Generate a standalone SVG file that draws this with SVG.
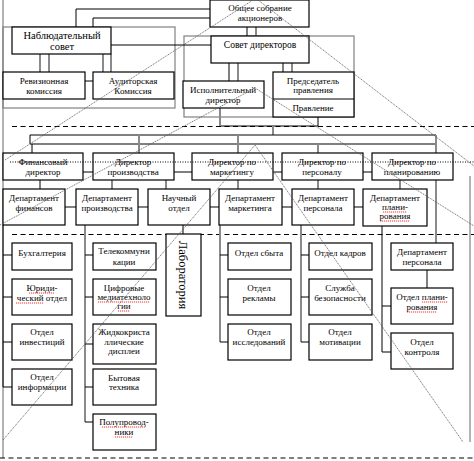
<svg xmlns="http://www.w3.org/2000/svg" width="474" height="461" viewBox="0 0 474 461">
<style>
.b{fill:#fff;stroke:#000;stroke-width:1.2}
.c{fill:none;stroke:#808080;stroke-width:1.2}
.t{font-family:"Liberation Serif","Times New Roman",serif;font-size:9px;text-anchor:middle;fill:#000}
.k{fill:none;stroke:#000;stroke-width:1}
.g{fill:none;stroke:#8a8a8a;stroke-width:2}
.d{fill:none;stroke:#000;stroke-width:1.2;stroke-dasharray:5 3.5}
.o{fill:none;stroke:#000;stroke-width:1;stroke-dasharray:1 1.5}
.x{fill:none;stroke:#555;stroke-width:0.8;stroke-dasharray:1.2 0.8}
.r{fill:none;stroke:#e00;stroke-width:0.8;stroke-dasharray:1.2 0.8}
</style>
<rect width="474" height="461" fill="#fff"/>
<g id="frames">
<rect class="c" x="3" y="27" width="172" height="81"/>
<rect class="c" x="184" y="36" width="170" height="81"/>
<path class="c" d="M3,0 V458 M470,176 V442"/>
<path class="d" d="M12,126.5 H474 M12,234.5 H474 M0,458 H474"/>
</g>
<g id="connectors">
<path class="k" d="M76,27 V9 H210 M93,27 V18 H210 M111,45 H211 M85,81 H93 M247,27 V36 M229,63 V81 M283,63 V72 M318,117 V126 M220,126 H318"/>
<path class="g" d="M40,54 V72 M49,54 V72 M103,54 V72 M111,54 V72 M256,27 V36 M238,63 V81 M292,63 V72 M220,108 V126 M273,126 V135"/>
<path class="k" d="M30,135 H436 M30,144 H436 M30,135 V144 M32,144 V153"/>
<path class="g" d="M139,135 V153 M238,135 V153 M318,144 V153 M436,135 V243"/>
<path class="k" d="M83,172 H93 M174,172 H192 M273,172 H282 M363,172 H372 M40,180 V189"/>
<path class="g" d="M112,180 V189 M166,180 V189 M238,180 V189 M318,180 V189 M400,180 V189"/>
<path class="k" d="M65,207 H76 M138,207 H148 M210,207 H219 M282,207 H292 M354,207 H363"/>
<path class="k" d="M3,225 V387 M3,255 H12 M3,297 H12 M3,342 H12 M3,387 H12"/>
<path class="g" d="M85,225 V422"/>
<path class="k" d="M85,255 H93 M85,297 H93 M85,344 H93 M85,387 H93 M85,422 H93 M183,225 V234"/>
<path class="g" d="M220,225 V342 M301,225 V342"/>
<path class="k" d="M220,255 H228 M220,297 H228 M220,342 H228 M301,255 H309 M301,297 H309 M301,342 H309"/>
<path class="k" d="M382,226 V352 M382,306 H391 M382,352 H391 M427,270 V288"/>
</g>
<g id="obshee"><rect class="b" x="210" y="0" width="99" height="27"/><text class="t" x="260" y="11">Общее собрание</text><text class="t" x="260" y="21">акционеров</text></g>
<g id="nablud"><rect class="b" x="12" y="27" width="99" height="27"/><text class="t" x="62" y="39" style="font-size:10.5px">Наблюдательный</text><text class="t" x="62" y="50" style="font-size:10.5px">совет</text></g>
<g id="reviz"><rect class="b" x="3" y="72" width="82" height="27"/><text class="t" x="44" y="84">Ревизионная</text><text class="t" x="44" y="94">комиссия</text></g>
<g id="audit"><rect class="b" x="93" y="72" width="81" height="27"/><text class="t" x="133" y="84">Аудиторская</text><text class="t" x="133" y="94">Комиссия</text></g>
<g id="sovet"><rect class="b" x="211" y="36" width="98" height="27"/><text class="t" x="260" y="48" style="font-size:9.5px">Совет директоров</text></g>
<g id="ispoln"><rect class="b" x="183" y="81" width="81" height="27"/><text class="t" x="223" y="93">Исполнительный</text><text class="t" x="223" y="103">директор</text></g>
<g id="predsed"><rect class="b" x="273" y="72" width="81" height="45"/><path class="k" d="M273,99 H354"/><text class="t" x="313" y="84">Председатель</text><text class="t" x="313" y="93">правления</text><text class="t" x="313" y="111">Правление</text></g>
<g id="fin_dir"><rect class="b" x="3" y="153" width="80" height="27"/><text class="t" x="43" y="165">Финансовый</text><text class="t" x="43" y="175">директор</text></g>
<g id="prod_dir"><rect class="b" x="93" y="153" width="81" height="27"/><text class="t" x="133" y="165">Директор</text><text class="t" x="133" y="175">производства</text></g>
<g id="mark_dir"><rect class="b" x="192" y="153" width="81" height="27"/><text class="t" x="232" y="165">Директор по</text><text class="t" x="232" y="175">маркетингу</text></g>
<g id="pers_dir"><rect class="b" x="282" y="153" width="81" height="27"/><text class="t" x="322" y="165">Директор по</text><text class="t" x="322" y="175">персоналу</text></g>
<g id="plan_dir"><rect class="b" x="372" y="153" width="81" height="27"/><text class="t" x="412" y="165">Директор по</text><text class="t" x="412" y="175">планированию</text></g>
<g id="dep_fin"><rect class="b" x="3" y="189" width="62" height="36"/><text class="t" x="34" y="201">Департамент</text><text class="t" x="34" y="211">финансов</text></g>
<g id="dep_prod"><rect class="b" x="76" y="189" width="62" height="36"/><text class="t" x="107" y="201">Департамент</text><text class="t" x="107" y="211">производства</text></g>
<g id="nauch"><rect class="b" x="148" y="189" width="62" height="36"/><text class="t" x="179" y="201">Научный</text><text class="t" x="179" y="211">отдел</text></g>
<g id="dep_mark"><rect class="b" x="219" y="189" width="63" height="36"/><text class="t" x="250" y="201">Департамент</text><text class="t" x="250" y="211">маркетинга</text></g>
<g id="dep_pers"><rect class="b" x="292" y="189" width="62" height="36"/><text class="t" x="323" y="201">Департамент</text><text class="t" x="323" y="211">персонала</text></g>
<g id="dep_plan"><rect class="b" x="363" y="189" width="64" height="37"/><text class="t" x="395" y="201">Департамент</text><text class="t" x="395" y="210">плани-</text><text class="t" x="395" y="219">рования</text><path class="r" d="M383,212 H407 M380,221 H410"/></g>
<g id="buh"><rect class="b" x="12" y="243" width="60" height="27"/><text class="t" x="42" y="256">Бухгалтерия</text></g>
<g id="yur"><rect class="b" x="12" y="279" width="60" height="36"/><text class="t" x="42" y="291">Юриди-</text><text class="t" x="42" y="301">ческий отдел</text><path class="r" d="M29,293 H54 M16,303 H44"/></g>
<g id="inv"><rect class="b" x="12" y="324" width="60" height="36"/><text class="t" x="42" y="335">Отдел</text><text class="t" x="42" y="345">инвестиций</text></g>
<g id="inf"><rect class="b" x="12" y="369" width="60" height="36"/><text class="t" x="42" y="380">Отдел</text><text class="t" x="42" y="390">информации</text></g>
<g id="tele"><rect class="b" x="93" y="243" width="63" height="27"/><text class="t" x="124" y="254">Телекоммуни</text><text class="t" x="124" y="265">кации</text></g>
<g id="cifr"><rect class="b" x="93" y="279" width="63" height="36"/><text class="t" x="124" y="291">Цифровые</text><text class="t" x="124" y="300">медиатехноло</text><text class="t" x="124" y="309">гии</text><path class="r" d="M98,302 H150 M118,311 H130"/></g>
<g id="zhk"><rect class="b" x="93" y="324" width="63" height="40"/><text class="t" x="124" y="335">Жидкокриста</text><text class="t" x="124" y="345">ллические</text><text class="t" x="124" y="354">дисплеи</text></g>
<g id="byt"><rect class="b" x="93" y="369" width="63" height="36"/><text class="t" x="124" y="381">Бытовая</text><text class="t" x="124" y="390">техника</text></g>
<g id="polu"><rect class="b" x="93" y="414" width="63" height="36"/><text class="t" x="124" y="425">Полупровод-</text><text class="t" x="124" y="435">ники</text><path class="r" d="M102,427 H146 M115,437 H133"/></g>
<g id="lab"><rect class="b" x="166" y="234" width="35" height="82"/><text class="t" transform="translate(179,275) rotate(90)" style="font-size:12.5px">Лаборатория</text></g>
<g id="sbyt"><rect class="b" x="228" y="243" width="63" height="27"/><text class="t" x="259" y="256">Отдел сбыта</text></g>
<g id="rekl"><rect class="b" x="228" y="279" width="63" height="36"/><text class="t" x="259" y="291">Отдел</text><text class="t" x="259" y="301">рекламы</text></g>
<g id="issl"><rect class="b" x="228" y="324" width="63" height="36"/><text class="t" x="259" y="335">Отдел</text><text class="t" x="259" y="345">исследований</text></g>
<g id="kadr"><rect class="b" x="309" y="243" width="63" height="27"/><text class="t" x="340" y="256">Отдел кадров</text></g>
<g id="sluzh"><rect class="b" x="309" y="279" width="63" height="36"/><text class="t" x="340" y="291">Служба</text><text class="t" x="340" y="301">безопасности</text></g>
<g id="motiv"><rect class="b" x="309" y="324" width="63" height="36"/><text class="t" x="340" y="335">Отдел</text><text class="t" x="340" y="345">мотивации</text></g>
<g id="dep_pers2"><rect class="b" x="391" y="243" width="62" height="27"/><text class="t" x="422" y="255">Департамент</text><text class="t" x="422" y="265">персонала</text></g>
<g id="otd_plan"><rect class="b" x="391" y="288" width="62" height="36"/><text class="t" x="422" y="300">Отдел плани-</text><text class="t" x="422" y="310">рования</text><path class="r" d="M422,302 H448 M407,312 H437"/></g>
<g id="kontrol"><rect class="b" x="391" y="333" width="62" height="36"/><text class="t" x="422" y="345">Отдел</text><text class="t" x="422" y="355">контроля</text></g>
<g id="overlay">
<path class="o" d="M10,162 H474"/>
<path class="x" d="M5,160 L253,0 M258,0 L474,166 M0,225 L255,88 L474,226 M3,440 L255,145 L463,442"/>
</g>
</svg>
